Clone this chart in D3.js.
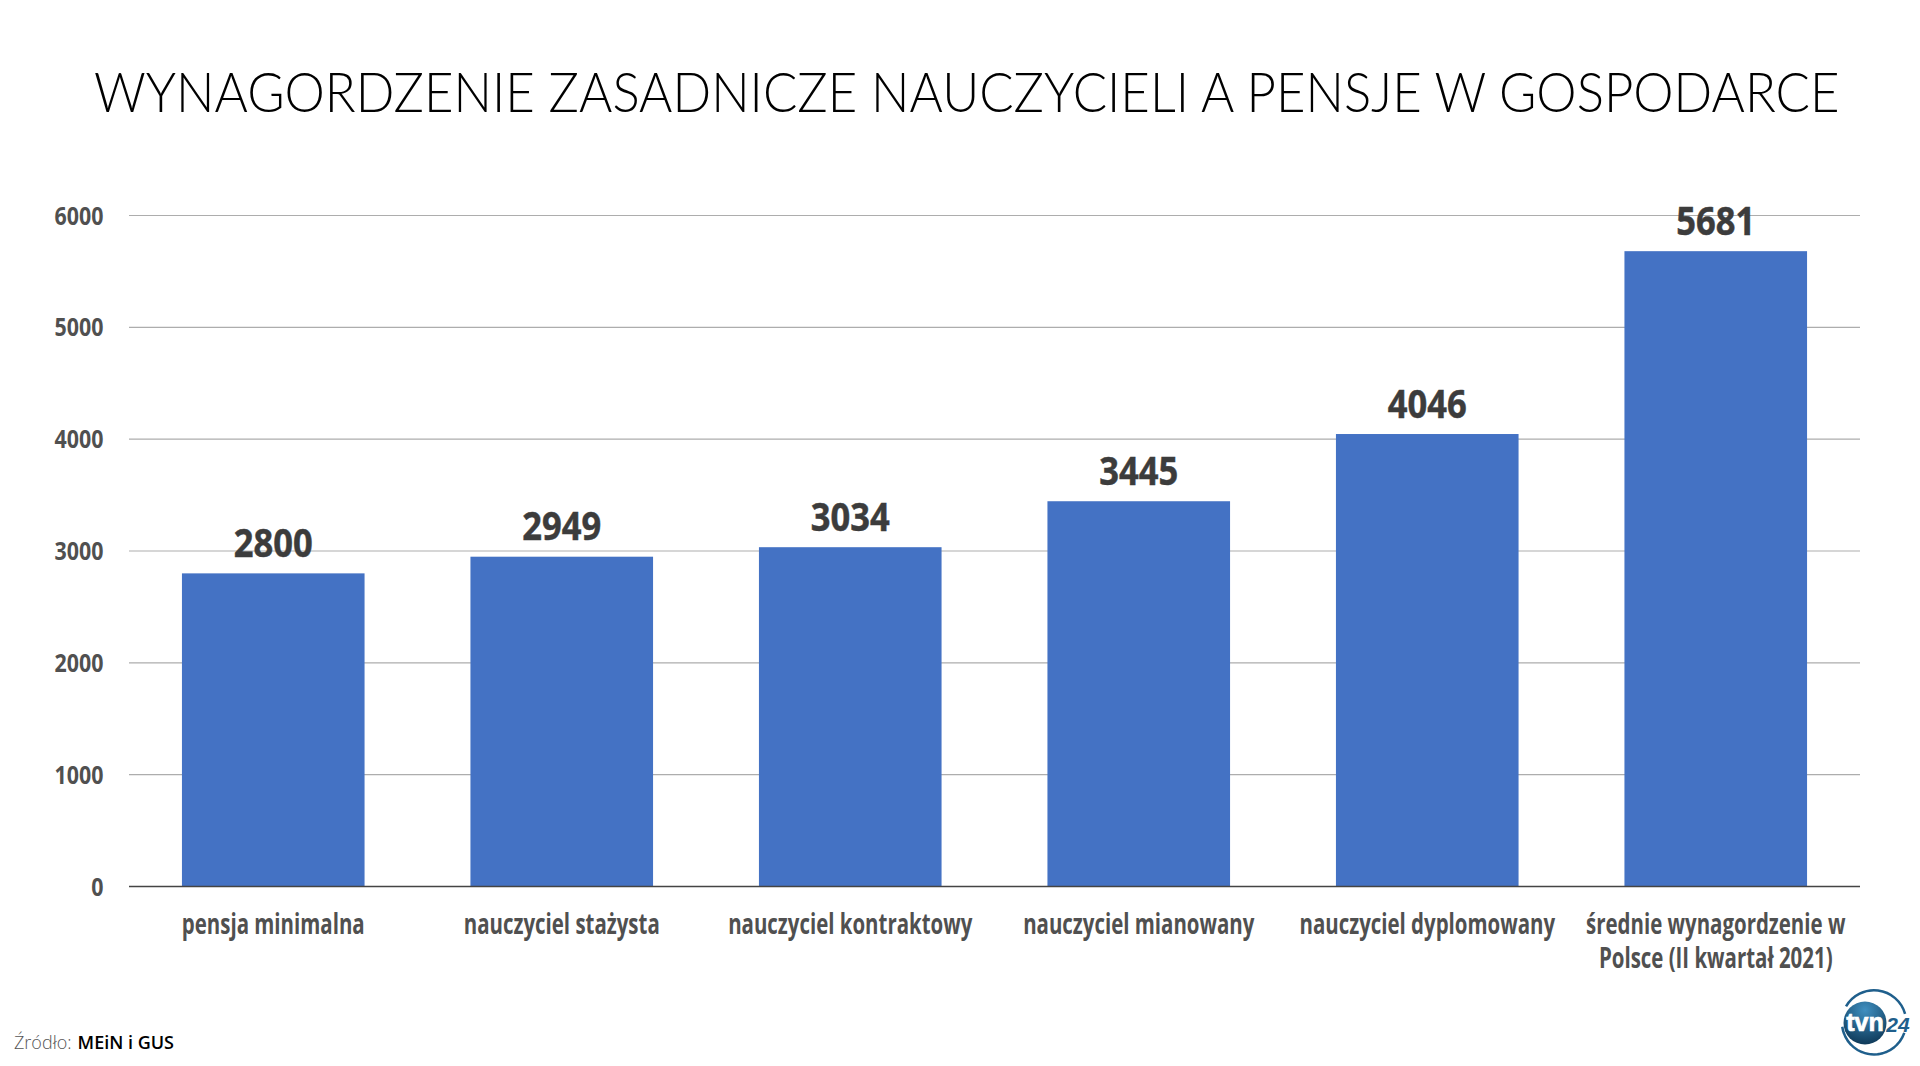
<!DOCTYPE html>
<html lang="pl">
<head>
<meta charset="utf-8">
<title>Wynagrodzenie</title>
<style>
	html, body { margin: 0; background: #fff; }
	svg { display: block; }
	.title { font-family: Lato, sans-serif; font-weight: 300; font-size: 56px; fill: #000; }
	.cond { font-family: "Open Sans", sans-serif; font-weight: 700; fill: #505050; }
	.value { font-size: 39px; fill: #3c3c3c; stroke: #3c3c3c; stroke-width: 0.5px; }
	.tick { font-size: 25.5px; }
	.cat { font-size: 28px; }
	.src { font-family: "Open Sans", sans-serif; font-size: 18px; }
</style>
</head>
<body>
<svg></svg>
<script src="https://d3js.org/d3.v7.min.js"></script>
<script>
	// chart data
	let categories = ["pensja minimalna", "nauczyciel stażysta", "nauczyciel kontraktowy", "nauczyciel mianowany", "nauczyciel dyplomowany", "średnie wynagordzenie w|Polsce (II kwartał 2021)"];
	let salaries = [2800, 2949, 3034, 3445, 4046, 5681];
	let yTicks = [0, 1000, 2000, 3000, 4000, 5000, 6000];

	let w = 1920, h = 1066;
	let svg = d3.select("svg").attr("width", w).attr("height", h);

	let x = d3.scaleBand().domain(categories).range([129, 1860]).paddingInner(0.367).paddingOuter(0.1835);
	let y = d3.scaleLinear().domain([0, 6000]).range([886.5, 215.5]);

	// the original font is condensed and nothing installed is, so squeeze the text sideways
	function squeezed(sel, px, py, k) {
		sel.attr("transform", (d, i) => `translate(${typeof px == "function" ? px(d, i) : px},${typeof py == "function" ? py(d, i) : py}) scale(${k},1)`);
	}

	let title = svg.append("text").attr("class", "title")
		.text("WYNAGORDZENIE ZASADNICZE NAUCZYCIELI A PENSJE W GOSPODARCE");
	title.call(squeezed, 94, 111.5, 1746 / title.node().getComputedTextLength());

	// grid
	svg.append("g").selectAll("line").data(yTicks.filter(d => d > 0)).enter().append("line")
		.attr("x1", 129).attr("x2", 1860)
		.attr("y1", d => y(d)).attr("y2", d => y(d))
		.attr("stroke", "#adadad").attr("stroke-width", 1.2);

	// y labels
	svg.append("g").selectAll("text").data(yTicks).enter().append("text")
		.attr("class", "cond tick")
		.attr("text-anchor", "end")
		.call(squeezed, 103.5, d => y(d) + 9, 0.84)
		.text(d => d);

	// bars
	svg.append("g").selectAll("rect").data(salaries).enter().append("rect")
		.attr("x", (d, i) => x(categories[i]))
		.attr("y", d => y(d))
		.attr("width", x.bandwidth())
		.attr("height", d => y(0) - y(d))
		.attr("fill", "#4472c4");

	svg.append("line").attr("x1", 129).attr("x2", 1860)
		.attr("y1", y(0)).attr("y2", y(0))
		.attr("stroke", "#444").attr("stroke-width", 1.5);

	// value labels
	svg.append("g").selectAll("text").data(salaries).enter().append("text")
		.attr("class", "cond value")
		.attr("text-anchor", "middle")
		.call(squeezed, (d, i) => x(categories[i]) + x.bandwidth() / 2, d => y(d) - 16.5, 0.885)
		.text(d => d);

	// category labels
	categories.forEach(c => {
		c.split("|").forEach((line, i) => {
			svg.append("text").attr("class", "cond cat")
				.attr("text-anchor", "middle")
				.call(squeezed, x(c) + x.bandwidth() / 2, 933.5 + i * 34, 0.73)
				.text(line);
		});
	});

	// source
	let src = svg.append("text").attr("class", "src").attr("x", 14).attr("y", 1049);
	src.append("tspan").attr("font-weight", 300).attr("fill", "#555").text("Źródło:");
	src.append("tspan").attr("dx", 6).attr("font-weight", 600).attr("fill", "#000").text("MEiN i GUS");

	// logo
	let defs = svg.append("defs");
	let grad = defs.append("radialGradient").attr("id", "ball").attr("cx", "50%").attr("cy", "20%").attr("r", "85%");
	grad.append("stop").attr("offset", "0%").attr("stop-color", "#3f8fc0");
	grad.append("stop").attr("offset", "100%").attr("stop-color", "#0c3553");

	let logo = svg.append("g").attr("transform", "translate(1874,1022.5)");
	logo.append("path").attr("fill", "#1f5f8c")
		.attr("d", d3.arc().innerRadius(31).outerRadius(33.5)({ startAngle: -1.05, endAngle: 1.3 }));
	logo.append("path").attr("fill", "none").attr("stroke", "#1f5f8c").attr("stroke-width", 2.5)
		.attr("stroke-dasharray", "10 3")
		.attr("d", d3.arc().innerRadius(32).outerRadius(32)({ startAngle: 1.9, endAngle: 4.58 }));
	logo.append("circle").attr("cx", -9).attr("cy", 0.5).attr("r", 21.5).attr("fill", "url(#ball)");
	logo.append("text").attr("x", -9).attr("y", 8).attr("text-anchor", "middle")
		.attr("font-family", "Liberation Sans").attr("font-weight", 700).attr("font-size", 25)
		.attr("fill", "#fff").attr("stroke", "#fff").attr("stroke-width", 0.7)
		.text("tvn");
	logo.append("text").attr("x", 24).attr("y", 9).attr("text-anchor", "middle")
		.attr("font-family", "Liberation Sans").attr("font-weight", 700).attr("font-style", "italic").attr("font-size", 21).attr("fill", "#1f5f8c")
		.text("24");
</script>
</body>
</html>
